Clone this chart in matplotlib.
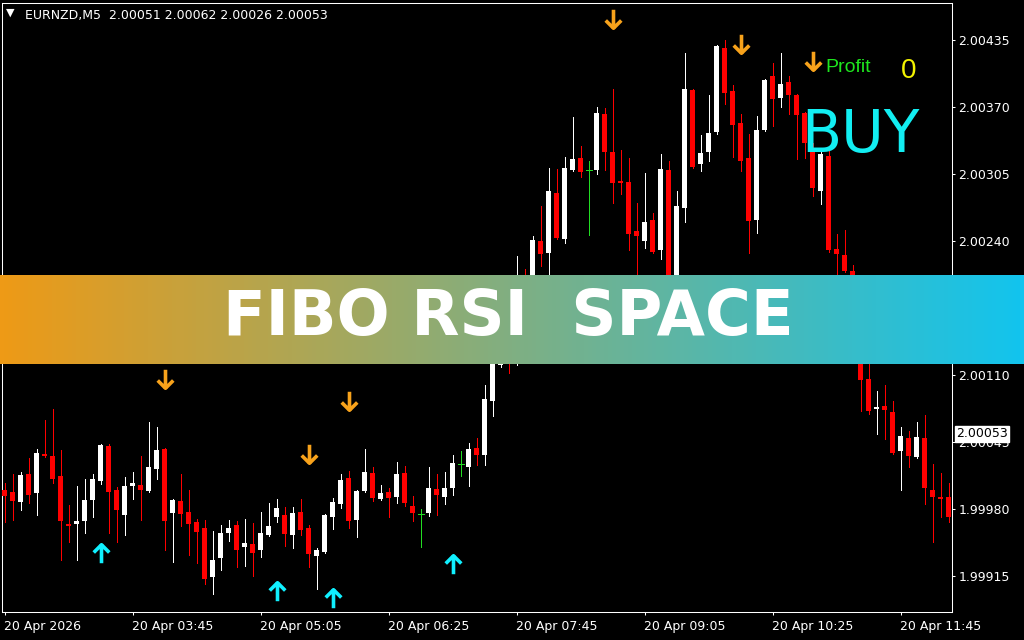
import numpy as np
import matplotlib.pyplot as plt
from matplotlib.path import Path
from matplotlib.colors import LinearSegmentedColormap
from matplotlib.transforms import blended_transform_factory

# EURNZD M5 candles (open, high, low, close), one per 5 minutes
opens = [1.99998, 1.99996, 1.99987, 2.00014, 1.99995, 2.00033, 2.00031, 2.00012, 1.99965, 1.99965,
         1.99968, 1.99989, 2.00007, 2.00041, 1.99998, 1.99974, 2.00002, 2.00003, 1.99997, 2.00019,
         2.00038, 1.99976, 1.99988, 1.99977, 1.99967, 1.99962, 1.99914, 1.99932, 1.99957, 1.99964,
         1.99943, 1.99946, 1.99940, 1.99955, 1.99972, 1.99974, 1.99955, 1.99977, 1.99962, 1.99934,
         1.99938, 1.99972, 1.99985, 2.00010, 1.99969, 1.99997, 2.00015, 1.99990, 1.99996, 1.99992,
         2.00015, 1.99983, 1.99975, 1.99976, 1.99999, 1.99992, 2.00000, 2.00024, 2.00021, 2.00039,
         2.00032, 2.00085, 2.00120, 2.00200, 2.00130, 2.00200, 2.00170, 2.00240, 2.00228, 2.00287,
         2.00242, 2.00309, 2.00321, 2.00309, 2.00309, 2.00363, 2.00326, 2.00298, 2.00297, 2.00250,
         2.00240, 2.00260, 2.00231, 2.00309, 2.00180, 2.00272, 2.00387, 2.00315, 2.00326, 2.00346,
         2.00427, 2.00386, 2.00355, 2.00321, 2.00260, 2.00348, 2.00400, 2.00379, 2.00394, 2.00382,
         2.00364, 2.00329, 2.00289, 2.00323, 2.00232, 2.00226, 2.00211, 2.00150, 2.00106, 2.00077,
         2.00080, 2.00074, 2.00036, 2.00049, 2.00030, 2.00049, 1.99998, 1.99992, 1.99992]
highs = [2.00005, 2.00014, 2.00016, 2.00029, 2.00038, 2.00066, 2.00077, 2.00037, 1.99984, 2.00002,
         2.00009, 2.00014, 2.00043, 2.00043, 2.00001, 2.00011, 2.00016, 2.00031, 2.00064, 2.00060,
         2.00039, 1.99990, 2.00014, 1.99998, 1.99970, 1.99969, 1.99959, 1.99964, 1.99969, 1.99968,
         1.99970, 1.99966, 1.99977, 1.99986, 1.99990, 1.99982, 1.99982, 1.99990, 1.99964, 1.99942,
         1.99975, 1.99991, 2.00014, 2.00017, 1.99998, 2.00038, 2.00021, 2.00003, 2.00000, 2.00026,
         2.00022, 1.99993, 1.99980, 2.00021, 2.00014, 2.00016, 2.00032, 2.00036, 2.00044, 2.00049,
         2.00100, 2.00160, 2.00205, 2.00204, 2.00225, 2.00213, 2.00245, 2.00274, 2.00311, 2.00310,
         2.00322, 2.00360, 2.00332, 2.00318, 2.00370, 2.00369, 2.00388, 2.00328, 2.00321, 2.00277,
         2.00306, 2.00267, 2.00324, 2.00318, 2.00289, 2.00422, 2.00388, 2.00343, 2.00382, 2.00430,
         2.00435, 2.00391, 2.00363, 2.00344, 2.00361, 2.00397, 2.00413, 2.00422, 2.00400, 2.00383,
         2.00365, 2.00335, 2.00329, 2.00330, 2.00247, 2.00251, 2.00217, 2.00160, 2.00130, 2.00094,
         2.00100, 2.00085, 2.00060, 2.00056, 2.00064, 2.00071, 2.00024, 2.00015, 2.00005]
lows = [1.99967, 1.99969, 1.99979, 1.99986, 1.99974, 2.00030, 2.00005, 1.99930, 1.99948, 1.99930,
        1.99957, 1.99972, 2.00004, 1.99957, 1.99948, 1.99955, 1.99990, 1.99969, 1.99996, 2.00009,
        1.99940, 1.99929, 1.99963, 1.99935, 1.99928, 1.99907, 1.99897, 1.99921, 1.99949, 1.99924,
        1.99925, 1.99915, 1.99933, 1.99954, 1.99967, 1.99944, 1.99942, 1.99955, 1.99924, 1.99902,
        1.99937, 1.99961, 1.99981, 1.99962, 1.99953, 1.99996, 1.99988, 1.99989, 1.99972, 1.99986,
        1.99983, 1.99968, 1.99943, 1.99973, 1.99974, 1.99985, 1.99994, 2.00012, 2.00002, 2.00023,
        2.00023, 2.00070, 2.00118, 2.00112, 2.00120, 2.00150, 2.00160, 2.00216, 2.00208, 2.00242,
        2.00238, 2.00308, 2.00302, 2.00246, 2.00305, 2.00309, 2.00277, 2.00286, 2.00231, 2.00190,
        2.00233, 2.00228, 2.00223, 2.00180, 2.00170, 2.00258, 2.00311, 2.00308, 2.00318, 2.00344,
        2.00373, 2.00322, 2.00308, 2.00228, 2.00248, 2.00347, 2.00352, 2.00370, 2.00363, 2.00320,
        2.00321, 2.00284, 2.00276, 2.00229, 2.00200, 2.00210, 2.00140, 2.00075, 2.00072, 2.00053,
        2.00048, 2.00033, 1.99998, 2.00021, 2.00029, 1.99985, 1.99948, 1.99972, 1.99967]
closes = [1.99993, 1.99988, 2.00013, 1.99994, 2.00034, 2.00031, 2.00009, 1.99968, 1.99963, 1.99968,
          1.99989, 2.00009, 2.00042, 1.99996, 1.99979, 2.00002, 2.00005, 1.99998, 2.00021, 2.00037,
          1.99968, 1.99989, 1.99975, 1.99965, 1.99958, 1.99912, 1.99930, 1.99957, 1.99962, 1.99940,
          1.99947, 1.99937, 1.99957, 1.99963, 1.99981, 1.99956, 1.99976, 1.99960, 1.99936, 1.99940,
          1.99974, 1.99987, 2.00008, 1.99968, 1.99997, 2.00016, 1.99991, 1.99995, 1.99991, 2.00014,
          1.99986, 1.99976, 1.99975, 2.00000, 1.99994, 2.00000, 2.00025, 2.00024, 2.00038, 2.00032,
          2.00087, 2.00150, 2.00195, 2.00130, 2.00195, 2.00160, 2.00241, 2.00227, 2.00289, 2.00243,
          2.00311, 2.00320, 2.00307, 2.00309, 2.00364, 2.00326, 2.00296, 2.00296, 2.00247, 2.00245,
          2.00258, 2.00229, 2.00310, 2.00190, 2.00274, 2.00388, 2.00312, 2.00325, 2.00345, 2.00429,
          2.00384, 2.00353, 2.00318, 2.00259, 2.00348, 2.00396, 2.00378, 2.00392, 2.00382, 2.00362,
          2.00335, 2.00291, 2.00324, 2.00231, 2.00227, 2.00211, 2.00150, 2.00105, 2.00075, 2.00079,
          2.00076, 2.00034, 2.00051, 2.00031, 2.00050, 2.00000, 1.99992, 1.99990, 1.99972]

time_ticks = [0, 16, 32, 48, 64, 80, 96, 112]
time_labels = ["20 Apr 2026", "20 Apr 03:45", "20 Apr 05:05", "20 Apr 06:25",
               "20 Apr 07:45", "20 Apr 09:05", "20 Apr 10:25", "20 Apr 11:45"]
price_ticks = [1.99915, 1.99980, 2.00045, 2.00110, 2.00175, 2.00240, 2.00305, 2.00370, 2.00435]
last_price = 2.00053

# signal arrows (candle index, price)
sell_idx = [20, 38, 43, 76, 92, 101]
sell_price = [2.00106, 2.00033, 2.00085, 2.00455, 2.00431, 2.00415]
buy_idx = [12, 34, 41, 56]
buy_price = [1.99937, 1.99900, 1.99894, 1.99927]

W, H = 1024, 640
fig = plt.figure(figsize=(W / 100, H / 100), dpi=100, facecolor="black")
ax = fig.add_axes([2 / W, 28 / H, 950 / W, 609 / H], facecolor="black")

o = np.array(opens)
c = np.array(closes)
x = np.arange(len(o))
doji = np.abs(o - c) < 1e-7
up = c > o
GREEN = "#22dd22"
cols = np.where(doji, GREEN, np.where(up, "white", "#ff0000"))

ax.vlines(x, lows, highs, colors=cols, lw=0.72, antialiased=False, zorder=2)
nd = ~doji
ax.bar(x[nd], np.abs(c - o)[nd], bottom=np.minimum(o, c)[nd], width=0.625,
       color=cols[nd], linewidth=0, antialiased=False, zorder=3)
ax.hlines(o[doji], x[doji] - 0.375, x[doji] + 0.375, colors=GREEN, lw=0.72,
          antialiased=False, zorder=3)

# arrows
down = Path([(0, 1), (0, -0.9), (-0.8, -0.1), (0, -0.9), (0.8, -0.1)],
            [Path.MOVETO, Path.LINETO, Path.MOVETO, Path.LINETO, Path.LINETO])
upp = Path([(0, -1), (0, 0.9), (-0.8, 0.1), (0, 0.9), (0.8, 0.1)],
           [Path.MOVETO, Path.LINETO, Path.MOVETO, Path.LINETO, Path.LINETO])
ax.plot(sell_idx, sell_price, ls="none", marker=down, ms=14, mfc="none",
        mec="#f7a21b", mew=2.6, zorder=5)
ax.plot(buy_idx, buy_price, ls="none", marker=upp, ms=14, mfc="none",
        mec="#10f0ff", mew=2.6, zorder=5)

ax.set_xlim(-0.3125, 118.4375)
ax.set_ylim(1.99880, 2.00471)

for s in ax.spines.values():
    s.set_color("white")
    s.set_linewidth(0.75)

ax.yaxis.tick_right()
ax.set_yticks(price_ticks, [f"{p:.5f}" for p in price_ticks])
ax.set_xticks(time_ticks, time_labels)
for lbl in ax.get_xticklabels():
    lbl.set_ha("left")
ax.tick_params(axis="both", colors="white", labelcolor="white", length=2.5,
               width=0.75, labelsize=9)
ax.tick_params(axis="y", pad=2)
ax.tick_params(axis="x", pad=3)

ax.text(1 + 4 / 950, last_price, f"{last_price:.5f}",
        transform=blended_transform_factory(ax.transAxes, ax.transData),
        ha="left", va="center", fontsize=9, color="black", clip_on=False,
        bbox=dict(boxstyle="square,pad=0.12", fc="white", ec="white"), zorder=10)

# header
fig.text(10 / W, 1 - 13 / H, "▼", ha="center", va="center", fontsize=8, color="white")
fig.text(25 / W, 1 - 18.5 / H, "EURNZD,M5  2.00051 2.00062 2.00026 2.00053",
         fontsize=9, color="white", va="baseline")

# indicator labels
fig.text(825 / W, 1 - 72.5 / H, "Profit", fontsize=14, color="#1ee61e",
         family="Liberation Sans", va="baseline")
fig.text(909 / W, 1 - 78 / H, "0", fontsize=20, color="#f2f200",
         family="Liberation Sans", va="baseline", ha="center")
fig.text(860 / W, 1 - 152 / H, "BUY", fontsize=42, color="#12eef2",
         va="baseline", ha="center")

# banner
bax = fig.add_axes([0, 1 - 364.5 / H, 1, 89.5 / H])
cmap = LinearSegmentedColormap.from_list("band", ["#ee9a16", "#12c4ee"])
bax.imshow(np.linspace(0, 1, 512).reshape(1, -1), cmap=cmap, aspect="auto",
           extent=[0, 1, 0, 1])
bax.axis("off")
fig.text(508 / W, 1 - 335 / H, "FIBO RSI  SPACE", fontsize=45, fontweight="bold",
         color="white", ha="center", va="baseline", zorder=20)

fig.savefig("out.png", dpi=100, facecolor="black")
